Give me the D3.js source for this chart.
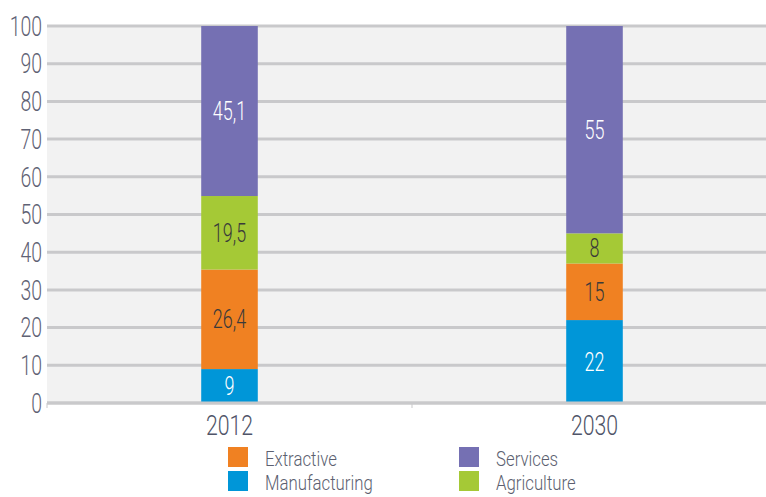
<!DOCTYPE html>
<html>
<head>
<meta charset="utf-8">
<script src="https://cdn.jsdelivr.net/npm/d3@7"></script>
<style>
    body { margin: 0; background: #ffffff; }
    svg text { font-family: "Roboto", "DejaVu Sans Condensed", sans-serif; font-weight: 300; }
</style>
</head>
<body>
<div id="chart-container"></div>
<script>
// data
const years = ['2012', '2030']
const sectors = ['Manufacturing', 'Extractive', 'Agriculture', 'Services']
const manufacturing = [9, 22]
const extractive = [26.4, 15]
const agriculture = [19.5, 8]
const services = [45.1, 55]
const yTicks = [0, 10, 20, 30, 40, 50, 60, 70, 80, 90, 100]
const legendOrder = ['Extractive', 'Manufacturing', 'Services', 'Agriculture']

const colours = {
    Manufacturing: '#0096d8',
    Extractive: '#f08122',
    Agriculture: '#a5c936',
    Services: '#7570b3'
}
const labelColours = {
    Manufacturing: '#ffffff',
    Extractive: '#3a3a3a',
    Agriculture: '#3a3a3a',
    Services: '#ffffff'
}

const width = 766
const height = 497
const margin = { top: 26, right: -11, bottom: 94, left: 47 }
const innerWidth = width - margin.left - margin.right
const innerHeight = height - margin.top - margin.bottom

// narrow font look: squeeze text horizontally around its anchor
const squeeze = (xPos, yPos, k) => d => `translate(${xPos(d)},${yPos(d)}) scale(${k},1)`

const formatValue = v => String(+v.toFixed(1)).replace('.', ',')

const svg = d3.select('#chart-container')
    .append('svg')
    .attr('id', 'chart-svg')
    .attr('width', width)
    .attr('height', height)

const chart = svg.append('g')
    .attr('transform', `translate(${margin.left},${margin.top})`)

const x = d3.scaleBand()
    .domain(years)
    .range([0, innerWidth])

const y = d3.scaleLinear()
    .domain([0, 100])
    .range([innerHeight, 0])

const barWidth = x.bandwidth() * 0.155

// plot background
chart.append('rect')
    .attr('x', 0)
    .attr('y', 0)
    .attr('width', innerWidth)
    .attr('height', innerHeight)
    .attr('fill', '#f2f2f2')

// gridlines
chart.append('g')
    .selectAll('line')
    .data(yTicks)
    .join('line')
    .attr('x1', 0)
    .attr('x2', innerWidth)
    .attr('y1', d => y(d))
    .attr('y2', d => y(d))
    .attr('stroke', '#c9c9cb')
    .attr('stroke-width', 3)

// y tick labels
chart.append('g')
    .selectAll('text')
    .data(yTicks)
    .join('text')
    .attr('transform', squeeze(() => -5, d => y(d), 0.72))
    .attr('dy', '0.36em')
    .attr('text-anchor', 'end')
    .attr('font-size', 27)
    .attr('fill', '#5f6274')
    .text(d => d)

// stacked data
const table = years.map((year, i) => ({
    year,
    Manufacturing: manufacturing[i],
    Extractive: extractive[i],
    Agriculture: agriculture[i],
    Services: services[i]
}))
const stacked = d3.stack().keys(sectors)(table)

const layers = chart.append('g')
    .selectAll('g')
    .data(stacked)
    .join('g')
    .attr('fill', d => colours[d.key])

layers.selectAll('rect')
    .data(d => d)
    .join('rect')
    .attr('x', d => x(d.data.year) + (x.bandwidth() - barWidth) / 2)
    .attr('y', d => y(d[1]))
    .attr('width', barWidth)
    .attr('height', d => y(d[0]) - y(d[1]))

// value labels
chart.append('g')
    .selectAll('g')
    .data(stacked)
    .join('g')
    .attr('fill', d => labelColours[d.key])
    .selectAll('text')
    .data(d => d)
    .join('text')
    .attr('transform', squeeze(d => x(d.data.year) + x.bandwidth() / 2, d => y((d[0] + d[1]) / 2), 0.72))
    .attr('dy', '0.36em')
    .attr('text-anchor', 'middle')
    .attr('font-size', 25)
    .text(d => formatValue(d[1] - d[0]))

// x axis
const xAxis = chart.append('g')
    .attr('transform', `translate(0,${innerHeight})`)

xAxis.append('line')
    .attr('x1', 0)
    .attr('x2', innerWidth)
    .attr('stroke', '#c9c9cb')
    .attr('stroke-width', 3)

xAxis.selectAll('.tick')
    .data(years)
    .join('line')
    .attr('class', 'tick')
    .attr('x1', d => x(d))
    .attr('x2', d => x(d))
    .attr('y1', 0)
    .attr('y2', 5)
    .attr('stroke', '#c9c9cb')
    .attr('stroke-width', 1)

xAxis.selectAll('text')
    .data(years)
    .join('text')
    .attr('transform', squeeze(d => x(d) + x.bandwidth() / 2, () => 22, 0.76))
    .attr('dy', '0.36em')
    .attr('text-anchor', 'middle')
    .attr('font-size', 28)
    .attr('fill', '#4f5468')
    .text(d => d)

// legend
const legend = svg.append('g')
    .attr('transform', 'translate(228,447)')

const legendItems = legend.selectAll('g')
    .data(legendOrder)
    .join('g')
    .attr('transform', (d, i) => `translate(${Math.floor(i / 2) * 231},${(i % 2) * 24})`)

legendItems.append('rect')
    .attr('width', 20)
    .attr('height', 20)
    .attr('fill', d => colours[d])

legendItems.append('text')
    .attr('transform', squeeze(() => 37, () => 12, 0.84))
    .attr('dy', '0.36em')
    .attr('font-size', 20)
    .attr('fill', '#5c5f70')
    .text(d => d)
</script>
</body>
</html>
